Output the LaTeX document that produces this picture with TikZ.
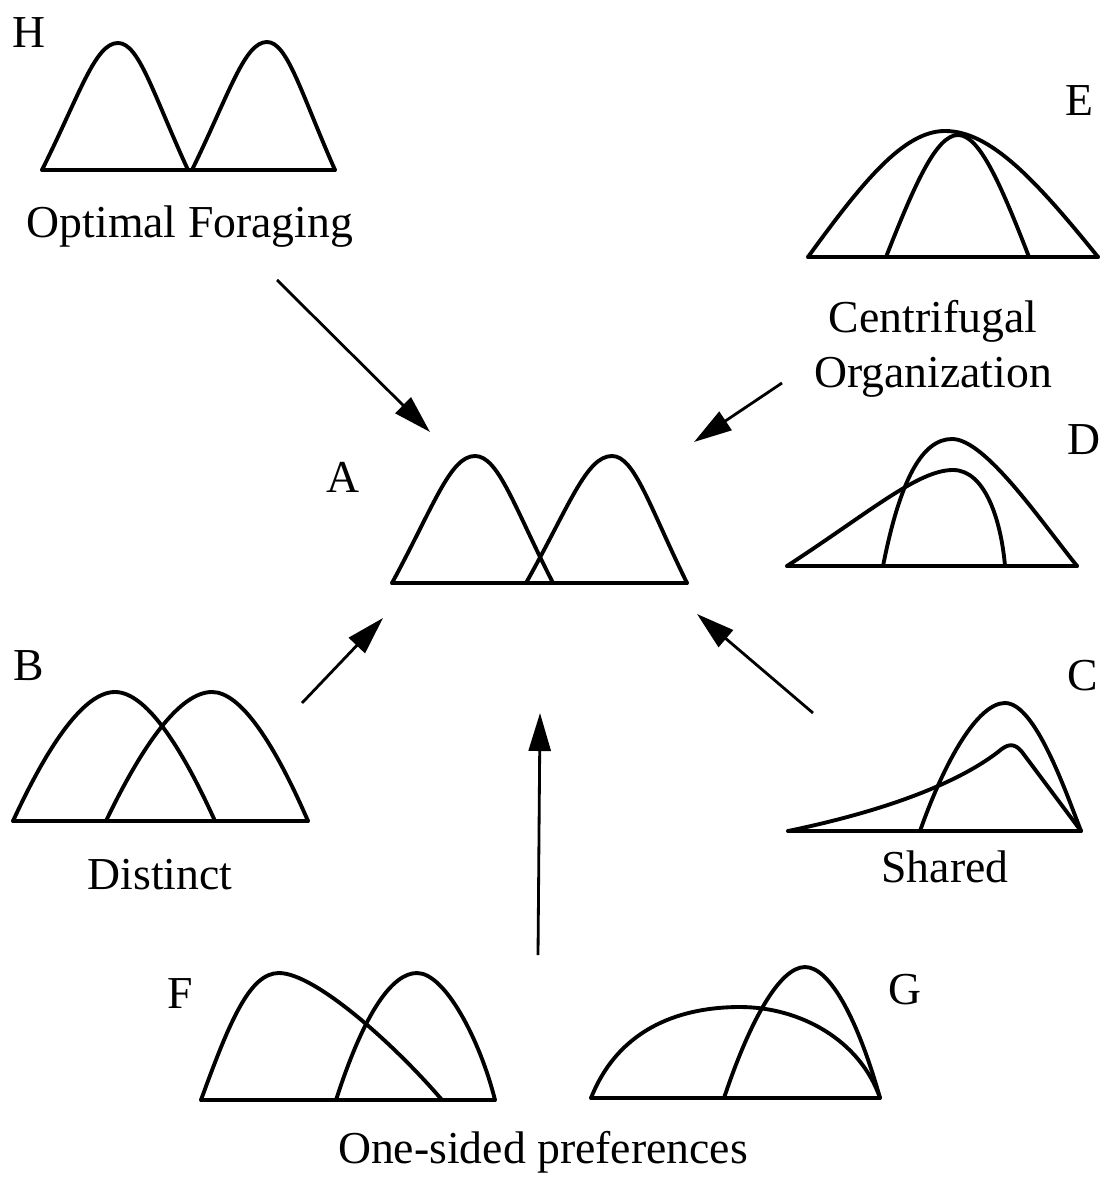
\documentclass[tikz,border=0pt]{standalone}
\usepackage{fontspec}
\setmainfont{Liberation Serif}
\usetikzlibrary{arrows.meta}

% one symmetric hump: [side straightness] left foot x, peak x, peak y, right foot x, base y
\newcommand{\hump}[6][0.5]{\draw[curve] (#2,#6) .. controls ({#2+#1*(#3-#2)},{#6+0.6*(#4-#6)}) and ({#3-0.3*(#3-#2)},#4) .. (#3,#4) .. controls ({#3+0.3*(#5-#3)},#4) and ({#5-#1*(#5-#3)},{#6+0.6*(#4-#6)}) .. (#5,#6);}

\begin{document}
\begin{tikzpicture}[x=0.01cm, y=-0.01cm,
  curve/.style={line width=1.1pt, line join=round, line cap=round},
  link/.style={-{Triangle[length=3.8mm,width=2.2mm]}, line width=0.8pt},
  lbl/.style={font=\fontsize{13}{15}\selectfont, anchor=base, inner sep=0pt}]
\useasboundingbox (0,0) rectangle (1107,1180);

% H: optimal foraging
\draw [curve] (42,170) -- (335,170);
\hump{42}{118}{43}{188}{170}
\hump{192}{267}{42}{335}{170}
\node [lbl] (labH) at (29,48) {H};
\node [lbl] (optimal) at (190,238) {Optimal Foraging};

% E: centrifugal organization
\draw [curve] (808,257) -- (1098,257);
\hump[0.4]{808}{945}{131}{1098}{257}
\hump[0.4]{886}{958}{135}{1029}{257}
\node [lbl] (labE) at (1079,116) {E};
\node [lbl] (centri) at (933,333) {Centrifugal};
\node [lbl] (organ) at (933,388) {Organization};

% A: centre
\draw [curve] (392,583) -- (687,583);
\hump{392}{475}{456}{553}{583}
\hump{526}{612}{456}{687}{583}
\node [lbl] (labA) at (343,492) {A};

% D
\draw [curve] (787,566) -- (1077,566);
\draw [curve] (787,566) .. controls (870,512) and (918,470) .. (953,470) .. controls (985,470) and (1001,520) .. (1005,566);
\draw [curve] (883,566) .. controls (900,480) and (922,439) .. (952,439) .. controls (985,439) and (1040,520) .. (1077,566);
\node [lbl] (labD) at (1084,455) {D};

% B: distinct
\draw [curve] (13,821) -- (308,821);
\hump[0.35]{13}{115}{692}{215}{821}
\hump[0.35]{106}{212}{692}{308}{821}
\node [lbl] (labB) at (29,680) {B};
\node [lbl] (distinct) at (160,889) {Distinct};

% C: shared
\draw [curve] (788,831) -- (1081,831);
\draw [curve] (920,831) .. controls (945,760) and (978,703) .. (1005,703) .. controls (1035,703) and (1065,790) .. (1081,831);
\draw [curve] (788,831) .. controls (880,812) and (955,785) .. (998,752) .. controls (1007,744) and (1014,742) .. (1022,752) -- (1081,831);
\node [lbl] (labC) at (1083,690) {C};
\node [lbl] (shared) at (945,882) {Shared};

% F
\draw [curve] (201,1100) -- (495,1100);
\draw [curve] (201,1100) .. controls (230,1020) and (250,973) .. (279,973) .. controls (315,973) and (395,1045) .. (442,1100);
\draw [curve] (336,1100) .. controls (365,1010) and (393,973) .. (417,973) .. controls (445,973) and (480,1040) .. (495,1100);
\node [lbl] (labF) at (180,1008) {F};

% G
\draw [curve] (591,1098) -- (880,1098);
\draw [curve] (591,1098) .. controls (620,1025) and (685,1007) .. (740,1007) .. controls (800,1007) and (860,1040) .. (880,1098);
\draw [curve] (724,1098) .. controls (750,1020) and (780,967) .. (805,967) .. controls (830,967) and (858,1020) .. (880,1098);
\node [lbl] (labG) at (905,1004) {G};
\node [lbl] (onesided) at (543,1163) {One-sided preferences};

% arrows into A
\coordinate (fromH) at (277,280);
\coordinate (toH) at (430,432);
\coordinate (fromE) at (782,383);
\coordinate (toE) at (694,442);
\coordinate (fromB) at (302,703);
\coordinate (toB) at (383,618);
\coordinate (fromC) at (813,713);
\coordinate (toC) at (697,614);
\coordinate (fromFG) at (538,955);
\coordinate (toFG) at (540,713);
\draw [link] (fromH) -- (toH);
\draw [link] (fromE) -- (toE);
\draw [link] (fromB) -- (toB);
\draw [link] (fromC) -- (toC);
\draw [link] (fromFG) -- (toFG);
\end{tikzpicture}
\end{document}
